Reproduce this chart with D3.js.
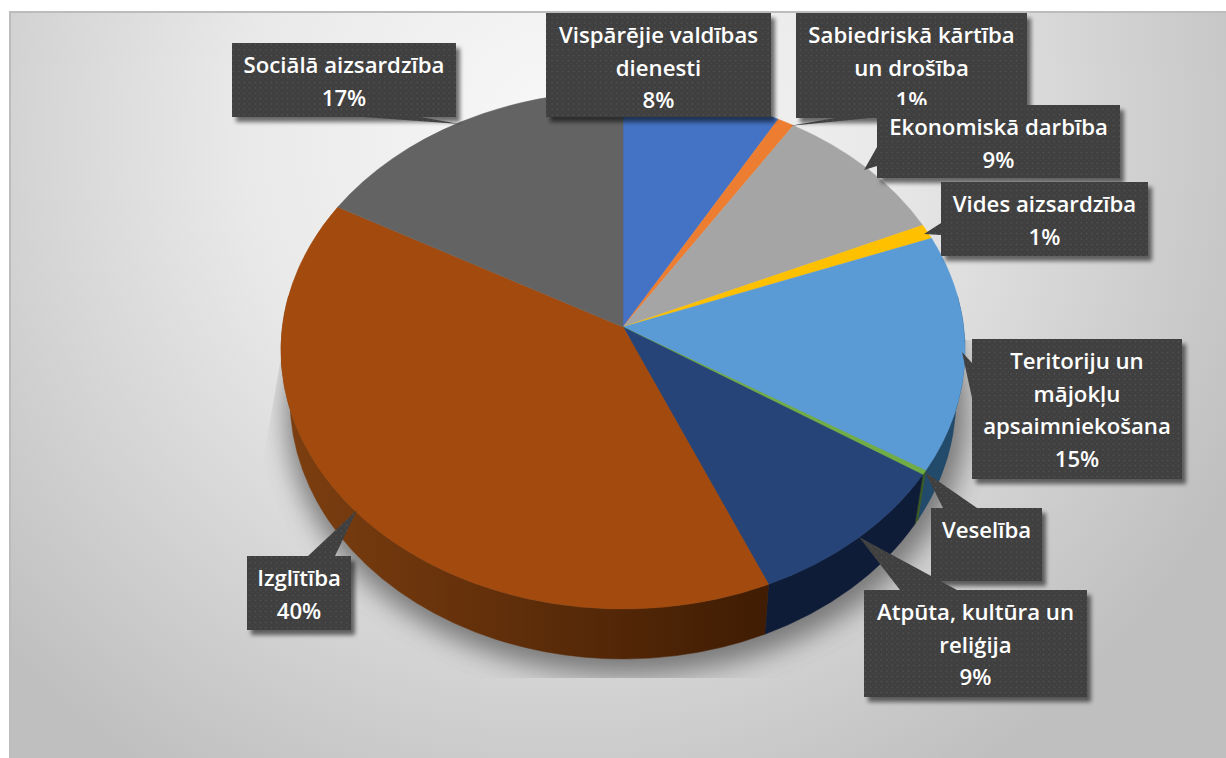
<!DOCTYPE html>
<html>
<head>
<meta charset="utf-8">
<script src="https://cdn.jsdelivr.net/npm/d3@7"></script>
<style>
  html, body { margin: 0; padding: 0; background: #fff; }
  svg { display: block; }
  .lbl { font-family: "Open Sans", "Noto Sans", sans-serif; font-size: 22.2px; font-weight: 600; fill: #fff; text-anchor: middle; }
</style>
</head>
<body>
<svg id="chart" width="1226" height="758"></svg>
<script>
// Data. Shares are the apparent sizes of the slices,
// the printed percentages differ a bit because of the 3D view.
const categories = ['Vispārējie valdības dienesti', 'Sabiedriskā kārtība un drošība', 'Ekonomiskā darbība',
  'Vides aizsardzība', 'Teritoriju un mājokļu apsaimniekošana', 'Veselība',
  'Atpūta, kultūra un reliģija', 'Izglītība', 'Sociālā aizsardzība'];
const shares = [7.5, 0.8, 8.7, 0.9, 14.8, 0.3, 10.0, 41.3, 15.7];
const percentLabels = ['8%', '1%', '9%', '1%', '15%', '', '9%', '40%', '17%'];
const labelLines = [
  ['Vispārējie valdības', 'dienesti'],
  ['Sabiedriskā kārtība', 'un drošība'],
  ['Ekonomiskā darbība'],
  ['Vides aizsardzība'],
  ['Teritoriju un', 'mājokļu', 'apsaimniekošana'],
  ['Veselība'],
  ['Atpūta, kultūra un', 'reliģija'],
  ['Izglītība'],
  ['Sociālā aizsardzība']
];
const topColors = ['#4472c4', '#ed7d31', '#a5a5a5', '#ffc000', '#5b9bd5', '#70ad47', '#264478', '#a34a0e', '#636363'];
const sideColors = ['#223962', '#773e18', '#535353', '#806000', '#224a6a', '#3a5a25', '#0e1c38', '#5a2a08', '#323232'];

// Layout
const apex = { x: 623, y: 327 };
const topRim = { cx: 623, cy: 350, rx: 342, ry: 259 };
const lowRim = { cx: 623, cy: 399, rx: 333, ry: 260 };

// label boxes: [x0, y0, x1, y1], tail: three points or null
const boxes = [
  { b: [546, 13, 771, 117], tail: null },
  { b: [796, 13, 1027, 118], tail: [[789, 126], [835, 118], [870, 118]] },
  { b: [877, 105, 1120, 178], tail: [[864, 170], [877, 147], [877, 166]] },
  { b: [941, 182, 1148, 256], tail: [[924, 234], [941, 223], [941, 235]] },
  { b: [972, 339, 1182, 479], tail: [[962, 352], [972, 363], [972, 398]] },
  { b: [931, 508, 1042, 581], tail: [[925, 472], [943, 508], [977, 508]] },
  { b: [864, 590, 1087, 697], tail: [[859, 537], [900, 590], [957, 590]] },
  { b: [247, 556, 351, 630], tail: [[357, 510], [308, 556], [335, 556]] },
  { b: [232, 43, 456, 117], tail: [[460, 124], [363, 117], [420, 117]] }
];

const svg = d3.select('#chart');
const defs = svg.append('defs');

const bg = defs.append('radialGradient').attr('id', 'bg')
  .attr('gradientUnits', 'userSpaceOnUse')
  .attr('cx', 560).attr('cy', 130).attr('r', 760);
bg.append('stop').attr('offset', '0%').attr('stop-color', '#f8f8f8');
bg.append('stop').attr('offset', '42%').attr('stop-color', '#e9e9e9');
bg.append('stop').attr('offset', '100%').attr('stop-color', '#bfbfbf');

defs.append('filter').attr('id', 'blur14').attr('x', '-20%').attr('y', '-20%').attr('width', '140%').attr('height', '140%')
  .append('feGaussianBlur').attr('stdDeviation', 13);
defs.append('filter').attr('id', 'blur2').attr('x', '-10%').attr('y', '-10%').attr('width', '120%').attr('height', '120%')
  .append('feGaussianBlur').attr('stdDeviation', 2.2);

defs.append('clipPath').attr('id', 'shadowClip').append('path')
  .attr('d', 'M284,340L258,490V678H1058V340Z');

// dotted texture of the label boxes
const dots = defs.append('pattern').attr('id', 'dots').attr('patternUnits', 'userSpaceOnUse')
  .attr('width', 5.4).attr('height', 5.4);
dots.append('rect').attr('width', 5.4).attr('height', 5.4).attr('fill', '#3f3f3f');
dots.append('circle').attr('cx', 1.3).attr('cy', 1.3).attr('r', 0.9).attr('fill', '#525252');
dots.append('circle').attr('cx', 4).attr('cy', 4).attr('r', 0.7).attr('fill', '#4a4a4a');

const sideGrad = (id, from, to) => {
  const g = defs.append('linearGradient').attr('id', id).attr('gradientUnits', 'userSpaceOnUse')
    .attr('x1', 290).attr('y1', 0).attr('x2', 770).attr('y2', 0);
  g.append('stop').attr('offset', '0%').attr('stop-color', from);
  g.append('stop').attr('offset', '100%').attr('stop-color', to);
};
sideGrad('brownSide', '#7c3e10', '#3f1c03');

// Background panel
svg.append('rect').attr('x', 9).attr('y', 11).attr('width', 1217).attr('height', 747).attr('fill', 'url(#bg)');
svg.append('path').attr('d', 'M10,758V12H1226').attr('fill', 'none').attr('stroke', '#bcbcbc').attr('stroke-width', 2);

// Soft shadow under the pie
svg.append('g').attr('clip-path', 'url(#shadowClip)')
  .append('ellipse')
  .attr('cx', lowRim.cx + 4).attr('cy', lowRim.cy + 12)
  .attr('rx', lowRim.rx + 8).attr('ry', lowRim.ry + 4)
  .attr('fill', '#5a5a5a').attr('opacity', 0.75).attr('filter', 'url(#blur14)');

const pie = d3.pie().sort(null).value(d => d);
const arcs = pie(shares);

const rimPoint = (rim, a) => [rim.cx + rim.rx * Math.sin(a), rim.cy - rim.ry * Math.cos(a)];

// Side walls, only the part that faces the viewer
const sideFrom = 78 * Math.PI / 180;
const sideTo = 282 * Math.PI / 180;
const sideGroup = svg.append('g');
arcs.forEach((d, i) => {
  const a0 = Math.max(d.startAngle, sideFrom);
  const a1 = Math.min(d.endAngle, sideTo);
  if (a1 <= a0) return;
  const p0 = rimPoint(topRim, a0), p1 = rimPoint(topRim, a1);
  const q0 = rimPoint(lowRim, a0), q1 = rimPoint(lowRim, a1);
  const path = `M${p0}A${topRim.rx},${topRim.ry} 0 0 1 ${p1}L${q1}A${lowRim.rx},${lowRim.ry} 0 0 0 ${q0}Z`;
  const fill = i === 7 ? 'url(#brownSide)' : sideColors[i];
  sideGroup.append('path').attr('d', path).attr('fill', fill).attr('stroke', fill).attr('stroke-width', 0.5);
});

// Top faces
svg.append('g').selectAll('path').data(arcs).join('path')
  .attr('d', d => {
    const p0 = rimPoint(topRim, d.startAngle), p1 = rimPoint(topRim, d.endAngle);
    const large = d.endAngle - d.startAngle > Math.PI ? 1 : 0;
    return `M${apex.x},${apex.y}L${p0}A${topRim.rx},${topRim.ry} 0 ${large} 1 ${p1}Z`;
  })
  .attr('fill', (d, i) => topColors[i])
  .attr('stroke', (d, i) => topColors[i])
  .attr('stroke-width', 0.5);

// Labels, later boxes cover earlier ones
categories.forEach((name, i) => {
  const { b, tail } = boxes[i];
  const g = svg.append('g');
  let outline = `M${b[0]},${b[1]}H${b[2]}V${b[3]}H${b[0]}Z`;
  g.append('path').attr('d', outline).attr('fill', '#000').attr('opacity', 0.55)
    .attr('transform', 'translate(4,5)').attr('filter', 'url(#blur2)');
  if (tail) outline += `M${tail[0]}L${tail[1]}L${tail[2]}Z`;
  g.append('path').attr('d', outline).attr('fill', 'url(#dots)').attr('fill-rule', 'nonzero');
  const lines = percentLabels[i] ? labelLines[i].concat(percentLabels[i]) : labelLines[i];
  const lineH = 32.7;
  const boxMid = (b[0] + b[2]) / 2;
  const top = b[1] + 30;
  g.selectAll('text').data(lines).join('text')
    .attr('class', 'lbl')
    .attr('x', boxMid)
    .attr('y', (t, k) => top + k * lineH)
    .text(t => t);
});
</script>
</body>
</html>
